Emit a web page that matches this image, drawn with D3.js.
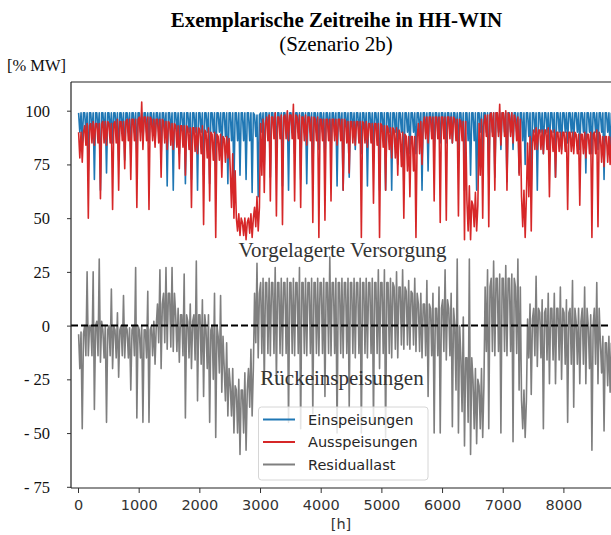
<!DOCTYPE html>
<html><head><meta charset="utf-8">
<script src="https://cdn.jsdelivr.net/npm/d3@7"></script>
<style>html,body{margin:0;padding:0;background:#fff;}svg{display:block;}</style>
</head><body>
<svg id="c" width="611" height="535"></svg>
<script>
// ---- data (100 h bins) ----
// *Hi / *Lo  : extreme values reached inside each bin
// *CoreHi / *CoreLo : dense band in which the series mostly moves inside the bin
const binHours = 100;
const xTicks = [0,1000,2000,3000,4000,5000,6000,7000,8000];
const yTicks = [100,75,50,25,0,-25,-50,-75];
const yTickLabels = ["100","75","50","25","0","- 25","- 50","- 75"];
const seriesNames = ["Einspeisungen","Ausspeisungen","Residuallast"];

const einHi = [99,99,99,99,99,99,99,99,99,99, 99,99,99,99,99,99,99,99,99,99,
               99,99,99,99,99,99,99,99,99,98, 99,99,99,99,99,99,99,99,99,99,
               99,99,99,99,99,99,99,99,99,99, 99,99,99,99,99,99,99,99,99,99,
               99,99,99,99,99,99,99,99,99,99, 99,99,99,99,99,99,99,99,99,99,
               99,99,99,99,99,99,99,99];
const einLo = [85,72,68,63,71,85,77,77,79,79, 85,85,85,79,65,63,80,66,68,63,
               70,66,72,80,66,65,70,68,62,60, 75,69,80,65,63,80,68,66,69,82,
               77,82,65,63,69,82,80,65,80,63, 63,63,75,66,80,80,63,72,82,85,
               85,85,82,63,70,63,80,69,69,82, 67,82,71,75,63,63,80,82,69,82,
               85,85,82,71,80,82,68,80];
const einCoreLo = [90,90,90,90,90,90,90,90,90,90, 90,90,90,90,90,90,90,90,90,90,
                   90,90,90,90,88,86,86,86,86,88, 90,90,90,90,90,90,90,90,90,90,
                   90,90,90,90,90,90,90,90,90,90, 90,90,90,90,90,90,90,90,90,90,
                   90,90,90,88,86,86,90,90,90,90, 90,90,90,86,88,90,90,90,90,90,
                   90,90,90,90,90,90,90,90];

const ausHi = [90,94,95,94,95,94,96,95,96,96, 104,97,96,96,95,94,93,93,92,92,
               93,92,90,89,88,80,52,50,52,60, 96,98,99,98,100,103,98,98,97,97,
               96,96,96,96,95,95,95,95,94,94, 93,92,92,90,88,88,95,97,97,97,
               97,97,96,95,65,62,96,98,99,103, 100,99,97,63,88,92,91,92,91,90,
               90,90,89,90,90,91,88,88];
const ausLo = [76,50,84,59,84,54,63,73,68,55, 82,54,83,69,82,82,73,70,55,80,
               47,58,41,69,78,50,42,40,41,44, 62,58,51,47,86,58,55,84,48,41,
               49,58,84,63,71,84,41,83,57,41, 63,78,70,50,60,41,75,85,58,48,
               49,85,51,40,40,44,50,46,63,84, 63,85,70,41,44,82,80,60,69,80,
               54,80,56,78,41,46,74,75];
const ausCoreHi = [90,93,94,94,95,94,95,95,96,96, 97,97,96,96,95,94,93,93,92,92,
                   91,90,89,88,87,72,50,48,50,55, 94,97,97,97,98,98,97,97,97,96,
                   96,96,96,96,95,95,95,94,94,94, 93,92,91,89,88,88,94,97,97,97,
                   97,97,96,95,58,56,94,98,99,99, 99,98,96,60,85,91,91,91,90,90,
                   90,90,89,89,89,90,88,88];
const ausCoreLo = [78,84,85,85,85,85,85,86,86,86, 86,86,86,85,85,84,83,83,82,81,
                   80,78,77,77,76,55,44,42,43,46, 70,86,87,87,87,87,87,86,86,86,
                   86,86,86,86,85,85,85,85,85,84, 83,82,78,74,72,72,80,87,87,87,
                   87,87,86,86,44,46,70,88,88,88, 88,88,86,46,60,82,82,82,81,81,
                   81,81,80,80,80,80,76,76];

const resHi = [-3,25,25,31,0,17,6,14,-1,27, 0,16,2,26,27,27,8,24,10,30,
               12,5,15,14,-8,-20,-25,-22,-11,29, 22,22,27,22,22,22,27,22,22,22,
               22,32,22,22,22,22,22,22,22,26, 26,22,25,26,21,22,15,21,15,18,
               26,15,31,4,31,-20,-20,26,30,24, 28,24,31,-30,10,23,12,15,15,18,
               12,21,8,18,5,20,-5,-5];
const resLo = [-48,-14,-39,-17,-45,-20,-24,-15,-30,-43, -45,-45,-18,-20,-11,-12,-17,-43,-20,-35,
               -33,-45,-52,-31,-42,-50,-60,-58,-42,-15, -27,-14,-26,-14,-45,-14,-48,-14,-41,-14,
               -33,-14,-50,-15,-38,-15,-50,-15,-45,-20, -52,-15,-15,-11,-11,-12,-15,-33,-50,-50,
               -16,-47,-50,-56,-60,-55,-52,-48,-14,-50, -14,-54,-30,-52,-32,-19,-48,-27,-27,-25,
               -45,-38,-27,-27,-58,-27,-49,-31];
const resCoreHi = [-4,0,0,2,-2,0,-2,0,-2,0, -2,-2,0,10,15,15,5,5,2,5,
                   5,-2,0,-5,-20,-28,-30,-30,-20,15, 20,20,20,20,20,20,20,20,20,20,
                   20,20,20,20,20,20,20,20,20,20, 20,20,18,18,16,15,10,10,8,8,
                   12,8,0,-15,-15,-25,-28,18,22,22, 22,22,18,-35,3,8,6,8,8,8,
                   6,8,2,8,0,8,-8,-8];
const resCoreLo = [-20,-14,-14,-14,-15,-14,-15,-14,-15,-14, -15,-15,-14,-8,-8,-10,-12,-14,-15,-16,
                   -18,-20,-25,-22,-35,-42,-50,-50,-38,-8, -13,-13,-13,-13,-13,-13,-13,-13,-13,-13,
                   -13,-13,-13,-13,-13,-13,-13,-13,-13,-13, -13,-13,-11,-9,-9,-9,-12,-14,-14,-14,
                   -12,-14,-30,-40,-45,-48,-48,-12,-12,-12, -12,-12,-13,-48,-15,-14,-15,-16,-16,-16,
                   -18,-18,-18,-18,-20,-18,-22,-28];

// ---- drawing ----
const svg = d3.select("#c");
const L = 71, T = 82, R = 611, B = 488;
const x = d3.scaleLinear().domain([0, 8000]).range([78, 563.4]);
const y = d3.scaleLinear().domain([-75, 100]).range([486.8, 110.7]);
const colors = ["#1f77b4", "#d62728", "#7f7f7f"];

svg.append("defs").append("clipPath").attr("id","clip")
  .append("rect").attr("x", L).attr("y", T).attr("width", R - L).attr("height", B - T);

const plot = svg.append("g").attr("clip-path", "url(#clip)");
const series = [
  {hi: einHi, lo: einLo, cHi: einHi, cLo: einCoreLo},
  {hi: ausHi, lo: ausLo, cHi: ausCoreHi, cLo: ausCoreLo},
  {hi: resHi, lo: resLo, cHi: resCoreHi, cLo: resCoreLo}
];
// each bin is traced as: band top, band bottom, bin maximum, bin minimum, band top
const order = [["cHi", 0.1], ["cLo", 0.3], ["hi", 0.5], ["lo", 0.7], ["cHi", 0.9]];
series.forEach((s, i) => {
  const pts = [];
  s.hi.forEach((h, k) => {
    const v = {hi: h, lo: s.lo[k], cHi: s.cHi[k], cLo: s.cLo[k]};
    order.forEach(([key, f]) => pts.push([(k + f) * binHours, v[key]]));
  });
  plot.append("path").datum(pts)
    .attr("d", d3.line().x(d => x(d[0])).y(d => y(d[1])))
    .attr("fill", "none").attr("stroke", colors[i]).attr("stroke-width", 1.6)
    .attr("stroke-linejoin", "round");
});
// zero line
plot.append("line").attr("x1", L).attr("x2", R).attr("y1", y(0)).attr("y2", y(0))
  .attr("stroke", "#000").attr("stroke-width", 2).attr("stroke-dasharray", "7,3");

// spines
svg.append("line").attr("x1", L).attr("x2", L).attr("y1", T).attr("y2", B).attr("stroke", "#222").attr("stroke-width", 1.2);
svg.append("line").attr("x1", L).attr("x2", R).attr("y1", T).attr("y2", T).attr("stroke", "#222").attr("stroke-width", 1.2);
svg.append("line").attr("x1", L).attr("x2", R).attr("y1", B).attr("y2", B).attr("stroke", "#222").attr("stroke-width", 1.2);

// axes
const ax = svg.append("g").attr("transform", `translate(0,${B})`)
  .call(d3.axisBottom(x).tickValues(xTicks).tickSize(5).tickPadding(7).tickFormat(d3.format("d")));
ax.select(".domain").remove();
ax.selectAll("line").attr("stroke", "#333");
ax.selectAll("text").attr("font-family", "DejaVu Sans").attr("font-size", "14.5px").attr("fill", "#333");

const ay = svg.append("g").attr("transform", `translate(${L},0)`)
  .call(d3.axisLeft(y).tickValues(yTicks).tickSize(4).tickPadding(17).tickFormat((d, i) => yTickLabels[i]));
ay.select(".domain").remove();
ay.selectAll("line").attr("stroke", "#333");
ay.selectAll("text").attr("font-family", "Liberation Serif").attr("font-size", "16.5px").attr("fill", "#111").attr("dy", "0.33em");

// titles
svg.append("text").attr("x", 336.5).attr("y", 27).attr("text-anchor", "middle")
  .attr("font-family", "Liberation Serif").attr("font-weight", "bold").attr("font-size", "21px")
  .text("Exemplarische Zeitreihe in HH-WIN");
svg.append("text").attr("x", 336).attr("y", 51).attr("text-anchor", "middle")
  .attr("font-family", "Liberation Serif").attr("font-size", "21px")
  .text("(Szenario 2b)");
svg.append("text").attr("x", 7).attr("y", 71)
  .attr("font-family", "Liberation Serif").attr("font-size", "16.5px").attr("fill", "#111")
  .text("[% MW]");
svg.append("text").attr("x", 341).attr("y", 529).attr("text-anchor", "middle")
  .attr("font-family", "DejaVu Sans").attr("font-size", "14.5px").attr("fill", "#333")
  .text("[h]");

// annotations
svg.append("text").attr("x", 342.5).attr("y", 257).attr("text-anchor", "middle")
  .attr("font-family", "Liberation Serif").attr("font-size", "21px").attr("fill", "#333")
  .text("Vorgelagerte Versorgung");
svg.append("text").attr("x", 342).attr("y", 385).attr("text-anchor", "middle")
  .attr("font-family", "Liberation Serif").attr("font-size", "21px").attr("fill", "#333")
  .text("Rückeinspeisungen");

// legend
const lg = svg.append("g");
lg.append("rect").attr("x", 258.5).attr("y", 407).attr("width", 169.5).attr("height", 73)
  .attr("rx", 3).attr("fill", "#fff").attr("fill-opacity", 0.8).attr("stroke", "#d6d6d6");
seriesNames.forEach((n, i) => {
  const yy = 419.5 + i * 22.5;
  lg.append("line").attr("x1", 263).attr("x2", 295).attr("y1", yy).attr("y2", yy)
    .attr("stroke", colors[i]).attr("stroke-width", 2);
  lg.append("text").attr("x", 308).attr("y", yy + 5.3)
    .attr("font-family", "DejaVu Sans").attr("font-size", "14.5px").attr("fill", "#262626").text(n);
});
</script>
</body></html>
